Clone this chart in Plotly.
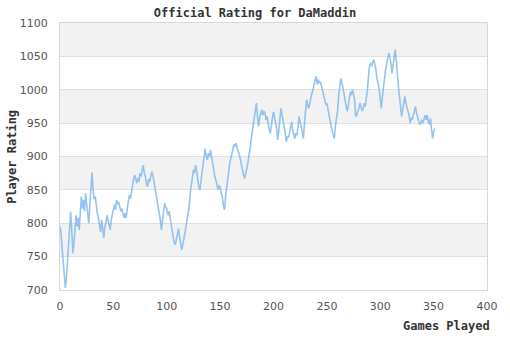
import plotly.graph_objects as go

ratings = [
    795, 785, 762, 740, 722, 703, 718, 740, 765, 795,
    817, 790, 755, 768, 795, 812, 795, 808, 790, 815,
    840, 822, 835, 818, 845, 828, 815, 800, 830, 860,
    876, 850, 836, 840, 825, 815, 808, 800, 787, 805,
    795, 778, 795, 800, 812, 805, 800, 790, 805, 815,
    822, 828, 820, 835, 828, 832, 825, 818, 822, 812,
    808, 815, 808, 822, 835, 842, 837, 850, 855, 867,
    872, 863, 860, 868, 862, 875, 870, 880, 887, 875,
    870, 858, 855, 866, 862, 870, 877, 872, 862, 857,
    845, 838, 828, 815, 805, 790, 805, 815, 830, 824,
    822, 812, 818, 810, 800, 788, 775, 770, 768, 778,
    785, 792, 780, 768, 760, 768, 775, 785, 795, 805,
    815, 825, 845, 858, 865, 880, 875, 887, 878, 865,
    855, 850, 862, 872, 885, 895, 912, 900, 895, 905,
    900, 910, 900, 888, 880, 870, 865, 858, 850, 856,
    855, 845, 840, 828, 820, 838, 852, 868, 878, 890,
    897, 905, 912, 918, 915, 920, 912, 908, 903, 895,
    885, 880, 872, 867, 875, 880, 890, 902, 910, 925,
    935, 947, 958, 967, 980, 960, 945, 958, 965, 970,
    962, 968, 965, 955, 960, 945, 940, 935, 950, 958,
    967, 960, 952, 942, 925, 940, 955, 972, 962, 955,
    945, 935, 922, 930, 928, 935, 945, 952, 940, 935,
    927, 935, 932, 945, 960, 950, 945, 935, 927, 950,
    965, 985, 978, 972, 980, 990, 995, 1000, 1010, 1015,
    1020, 1008, 1015, 1010, 1012, 1005, 1003, 995, 985, 978,
    980, 970, 960, 955, 945, 938, 930, 927, 945, 955,
    968, 990, 1010, 1017, 1012, 1005, 995, 985, 975, 968,
    975, 985, 997, 992, 1000, 993, 985, 960, 962, 968,
    972, 980, 975, 968, 972, 980, 975, 985, 1000, 1020,
    1037, 1040, 1035, 1042, 1045, 1038, 1030, 1015, 1010, 1000,
    985, 972, 990, 1005, 1015, 1030, 1038, 1045, 1055, 1048,
    1040, 1025, 1035, 1045, 1060, 1045, 1020, 1005, 990, 975,
    960, 970, 982, 990, 980, 972, 968, 962, 950, 958,
    955, 962, 968, 975, 965, 960, 955, 948, 950, 955,
    950, 958, 962, 955, 962, 952, 948, 957, 945, 927,
    937, 942,
]
games = list(range(len(ratings)))

x_ticks = [0, 50, 100, 150, 200, 250, 300, 350, 400]
y_ticks = [700, 750, 800, 850, 900, 950, 1000, 1050, 1100]
band_ranges = [(750, 800), (850, 900), (950, 1000), (1050, 1100)]

title_text = "Official Rating for DaMaddin"
x_title = "Games Played"
y_title = "Player Rating"

mono = "DejaVu Sans Mono"
tick_font = dict(family="DejaVu Sans", size=11, color="#555555")

fig = go.Figure()
fig.add_trace(go.Scatter(
    x=games, y=ratings, mode="lines",
    line=dict(color="rgba(124,181,236,0.8)", width=1.6),
    hoverinfo="x+y", showlegend=False,
))

shapes = []
for lo, hi in band_ranges:
    shapes.append(dict(type="rect", xref="paper", yref="y", x0=0, x1=1, y0=lo, y1=hi,
                       fillcolor="#f2f2f2", line=dict(width=0), layer="below"))

fig.update_layout(
    width=510, height=340,
    margin=dict(l=60, r=20, t=23, b=50),
    paper_bgcolor="white", plot_bgcolor="white",
    shapes=shapes,
    title=dict(text="<b>" + title_text + "</b>", x=0.5, xref="container", xanchor="center",
               y=1 - 13 / 340, yref="container", yanchor="middle",
               font=dict(family=mono, size=12, color="#333333")),
    xaxis=dict(range=[0, 400], tickvals=x_ticks, showgrid=False, zeroline=False,
               showline=True, linecolor="#d8d8d8", linewidth=1, mirror=True,
               ticks="", tickfont=tick_font, ticklabelstandoff=6),
    yaxis=dict(range=[700, 1100], tickvals=y_ticks, showgrid=True, gridcolor="#e0e0e0",
               gridwidth=1, zeroline=False, showline=True, linecolor="#d8d8d8",
               linewidth=1, mirror=True, ticks="", tickfont=tick_font, ticklabelstandoff=9),
    annotations=[
        dict(text="<b>" + x_title + "</b>", xref="paper", yref="paper", x=1, y=-36 / 267,
             xanchor="right", yanchor="middle", showarrow=False, xshift=5,
             font=dict(family=mono, size=12, color="#333333")),
        dict(text="<b>" + y_title + "</b>", xref="paper", yref="paper", x=-49 / 430, y=0.5,
             xanchor="center", yanchor="middle", textangle=-90, showarrow=False,
             font=dict(family=mono, size=12, color="#333333")),
    ],
)

fig.write_html("out.html")
